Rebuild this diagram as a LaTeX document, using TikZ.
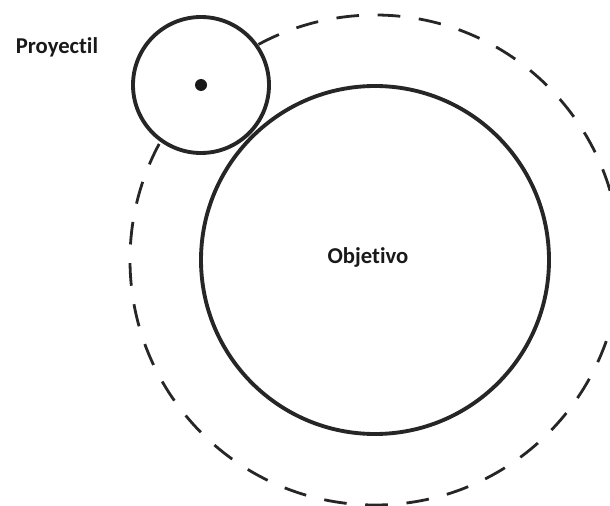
\documentclass[tikz,border=0pt]{standalone}
\usepackage{fontspec}
\setmainfont{Carlito}[Ligatures={NoCommon}]
\begin{document}
\begin{tikzpicture}[x=0.75pt, y=-0.75pt]
	% marco de la figura
	\useasboundingbox (0,0) rectangle (610,506);
	\tikzset{
		orbita/.style={draw=black!85, line width=2.1pt, dash pattern=on 17pt off 14pt},
		cuerpo/.style={draw=black!85, line width=2.9pt, fill=white},
		rotulo/.style={font=\fontsize{17}{19}\selectfont\bfseries, text=black!90}
	}
	\coordinate (centro) at (375,260);
	\draw[orbita] (centro) circle[radius=245];
	\draw[cuerpo] (centro) circle[radius=174];
	\node[rotulo] (objetivo) at (368,257) {Objetivo};
	\draw[cuerpo] (201,85) circle[radius=68];
	\fill[black!90] (201,85) circle[radius=6];
	\node[rotulo] (proyectil) at (57,47) {Proyectil};
\end{tikzpicture}
\end{document}
